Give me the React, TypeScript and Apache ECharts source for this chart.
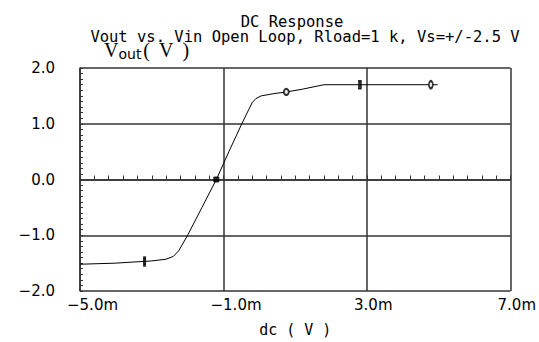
import React, { useEffect, useRef } from "react";
import * as echarts from "echarts";

// DC sweep (mV) and output voltage (V)
const vinMv = [-5.0, -4.5, -4.0, -3.5, -3.2, -3.0, -2.6, -2.4, -2.25, -2.0, -1.6, -1.2, -0.85, -0.49, -0.3, -0.2, -0.1, 0.05, 0.4, 0.75, 1.2, 1.8, 2.8, 4.78, 4.97];
const voutV = [-1.52, -1.51, -1.5, -1.48, -1.47, -1.46, -1.43, -1.38, -1.28, -1.0, -0.5, 0.0, 0.5, 1.0, 1.25, 1.38, 1.45, 1.5, 1.54, 1.57, 1.62, 1.7, 1.7, 1.7, 1.7];

// point markers along the trace
const markerMv = [-3.2, -1.2, 0.75, 2.8, 4.78];
const markerV = [-1.47, 0.0, 1.57, 1.7, 1.7];
const markerSymbols = ["rect", "rect", "emptyCircle", "rect", "emptyCircle"];
const markerSizes: number[][] = [[2, 7], [5, 5], [5, 6], [3, 8], [4, 7]];

const xMinMv = -5;
const xMaxMv = 7;
const xStepMv = 4;
const yMin = -2;
const yMax = 2;

const titleText = "DC Response";
const subtitleText = "Vout vs. Vin Open Loop, Rload=1 k, Vs=+/-2.5 V";

const MONO = "DejaVu Sans Mono";
const SANS = "DejaVu Sans";
const SERIF = "Liberation Serif";
const minus = (s: string) => s.replace("-", "\u2212");

export default function App() {
  const ref = useRef<HTMLDivElement>(null);
  useEffect(() => {
    if (!ref.current) return;
    const chart = echarts.init(ref.current, null, { renderer: "svg" });
    const off = -xMinMv;
    const line = vinMv.map((x, i) => [x + off, voutV[i]]);
    const marks = markerMv.map((x, i) => ({
      value: [x + off, markerV[i]],
      symbol: markerSymbols[i],
      symbolSize: markerSizes[i],
    }));
    const gridColor = "#333333";
    chart.setOption({
      animation: false,
      backgroundColor: "#ffffff",
      title: [
        {
          text: titleText,
          left: 287,
          top: 9,
          textAlign: "center",
          textStyle: { fontFamily: MONO, fontSize: 15.5, fontWeight: "normal", color: "#000" },
        },
        {
          text: subtitleText,
          left: 300,
          top: 24,
          textAlign: "center",
          textStyle: { fontFamily: MONO, fontSize: 15.5, fontWeight: "normal", color: "#000" },
        },
      ],
      grid: { left: 80, right: 26, top: 68, bottom: 39, containLabel: false },
      xAxis: {
        type: "value",
        min: 0,
        max: xMaxMv - xMinMv,
        interval: xStepMv,
        name: "dc ( V )",
        nameLocation: "middle",
        nameGap: 31,
        nameTextStyle: { fontFamily: MONO, fontSize: 15, color: "#000" },
        axisLine: { show: true, lineStyle: { color: gridColor, width: 1.5 } },
        axisTick: { show: true, inside: true, length: 4, lineStyle: { color: gridColor } },
        minorTick: { show: true, splitNumber: 10, length: 4, lineStyle: { color: gridColor, width: 1 } },
        splitLine: { show: true, lineStyle: { color: gridColor, width: 1.5 } },
        axisLabel: {
          margin: 6,
          align: "left",
          padding: [0, 0, 0, -13],
          fontFamily: SANS,
          fontSize: 15,
          color: "#000",
          formatter: (v: number) => minus((v - off).toFixed(1)) + "m",
        },
      },
      yAxis: {
        type: "value",
        min: yMin,
        max: yMax,
        interval: 1,
        name: "{v|V}{o|out}{p|(}{q|V}{r|)}",
        nameLocation: "end",
        nameGap: 7,
        nameTextStyle: {
          align: "left",
          padding: [0, 0, 0, 24],
          rich: {
            v: { fontFamily: SERIF, fontSize: 20, color: "#000" },
            o: { fontFamily: SANS, fontSize: 14, color: "#000", padding: [9, 0, 0, 0] },
            p: { fontFamily: SERIF, fontSize: 20, color: "#000", padding: [0, 0, 0, 2] },
            q: { fontFamily: SERIF, fontSize: 20, color: "#000", padding: [0, 9, 0, 9] },
            r: { fontFamily: SERIF, fontSize: 20, color: "#000" },
          },
        },
        axisLine: { show: true, lineStyle: { color: gridColor, width: 1.5 } },
        axisTick: { show: true, inside: true, length: 3, lineStyle: { color: gridColor } },
        minorTick: { show: true, splitNumber: 10, length: 3, lineStyle: { color: gridColor, width: 1 } },
        splitLine: { show: true, lineStyle: { color: gridColor, width: 1.5 } },
        axisLabel: {
          margin: 25,
          padding: [0, 0, 7, 0],
          fontFamily: SANS,
          fontSize: 15,
          color: "#000",
          formatter: (v: number) => minus(v.toFixed(1)),
        },
      },
      series: [
        {
          type: "line",
          data: line,
          showSymbol: false,
          lineStyle: { color: "#000", width: 1 },
          z: 3,
        },
        {
          type: "scatter",
          data: marks,
          itemStyle: { color: "#000", borderColor: "#000" },
          z: 4,
        },
      ],
    });
    return () => chart.dispose();
  }, []);
  return (
    <div
      ref={ref}
      style={{ position: "absolute", left: 0, top: 0, width: 539, height: 342 }}
    />
  );
}
